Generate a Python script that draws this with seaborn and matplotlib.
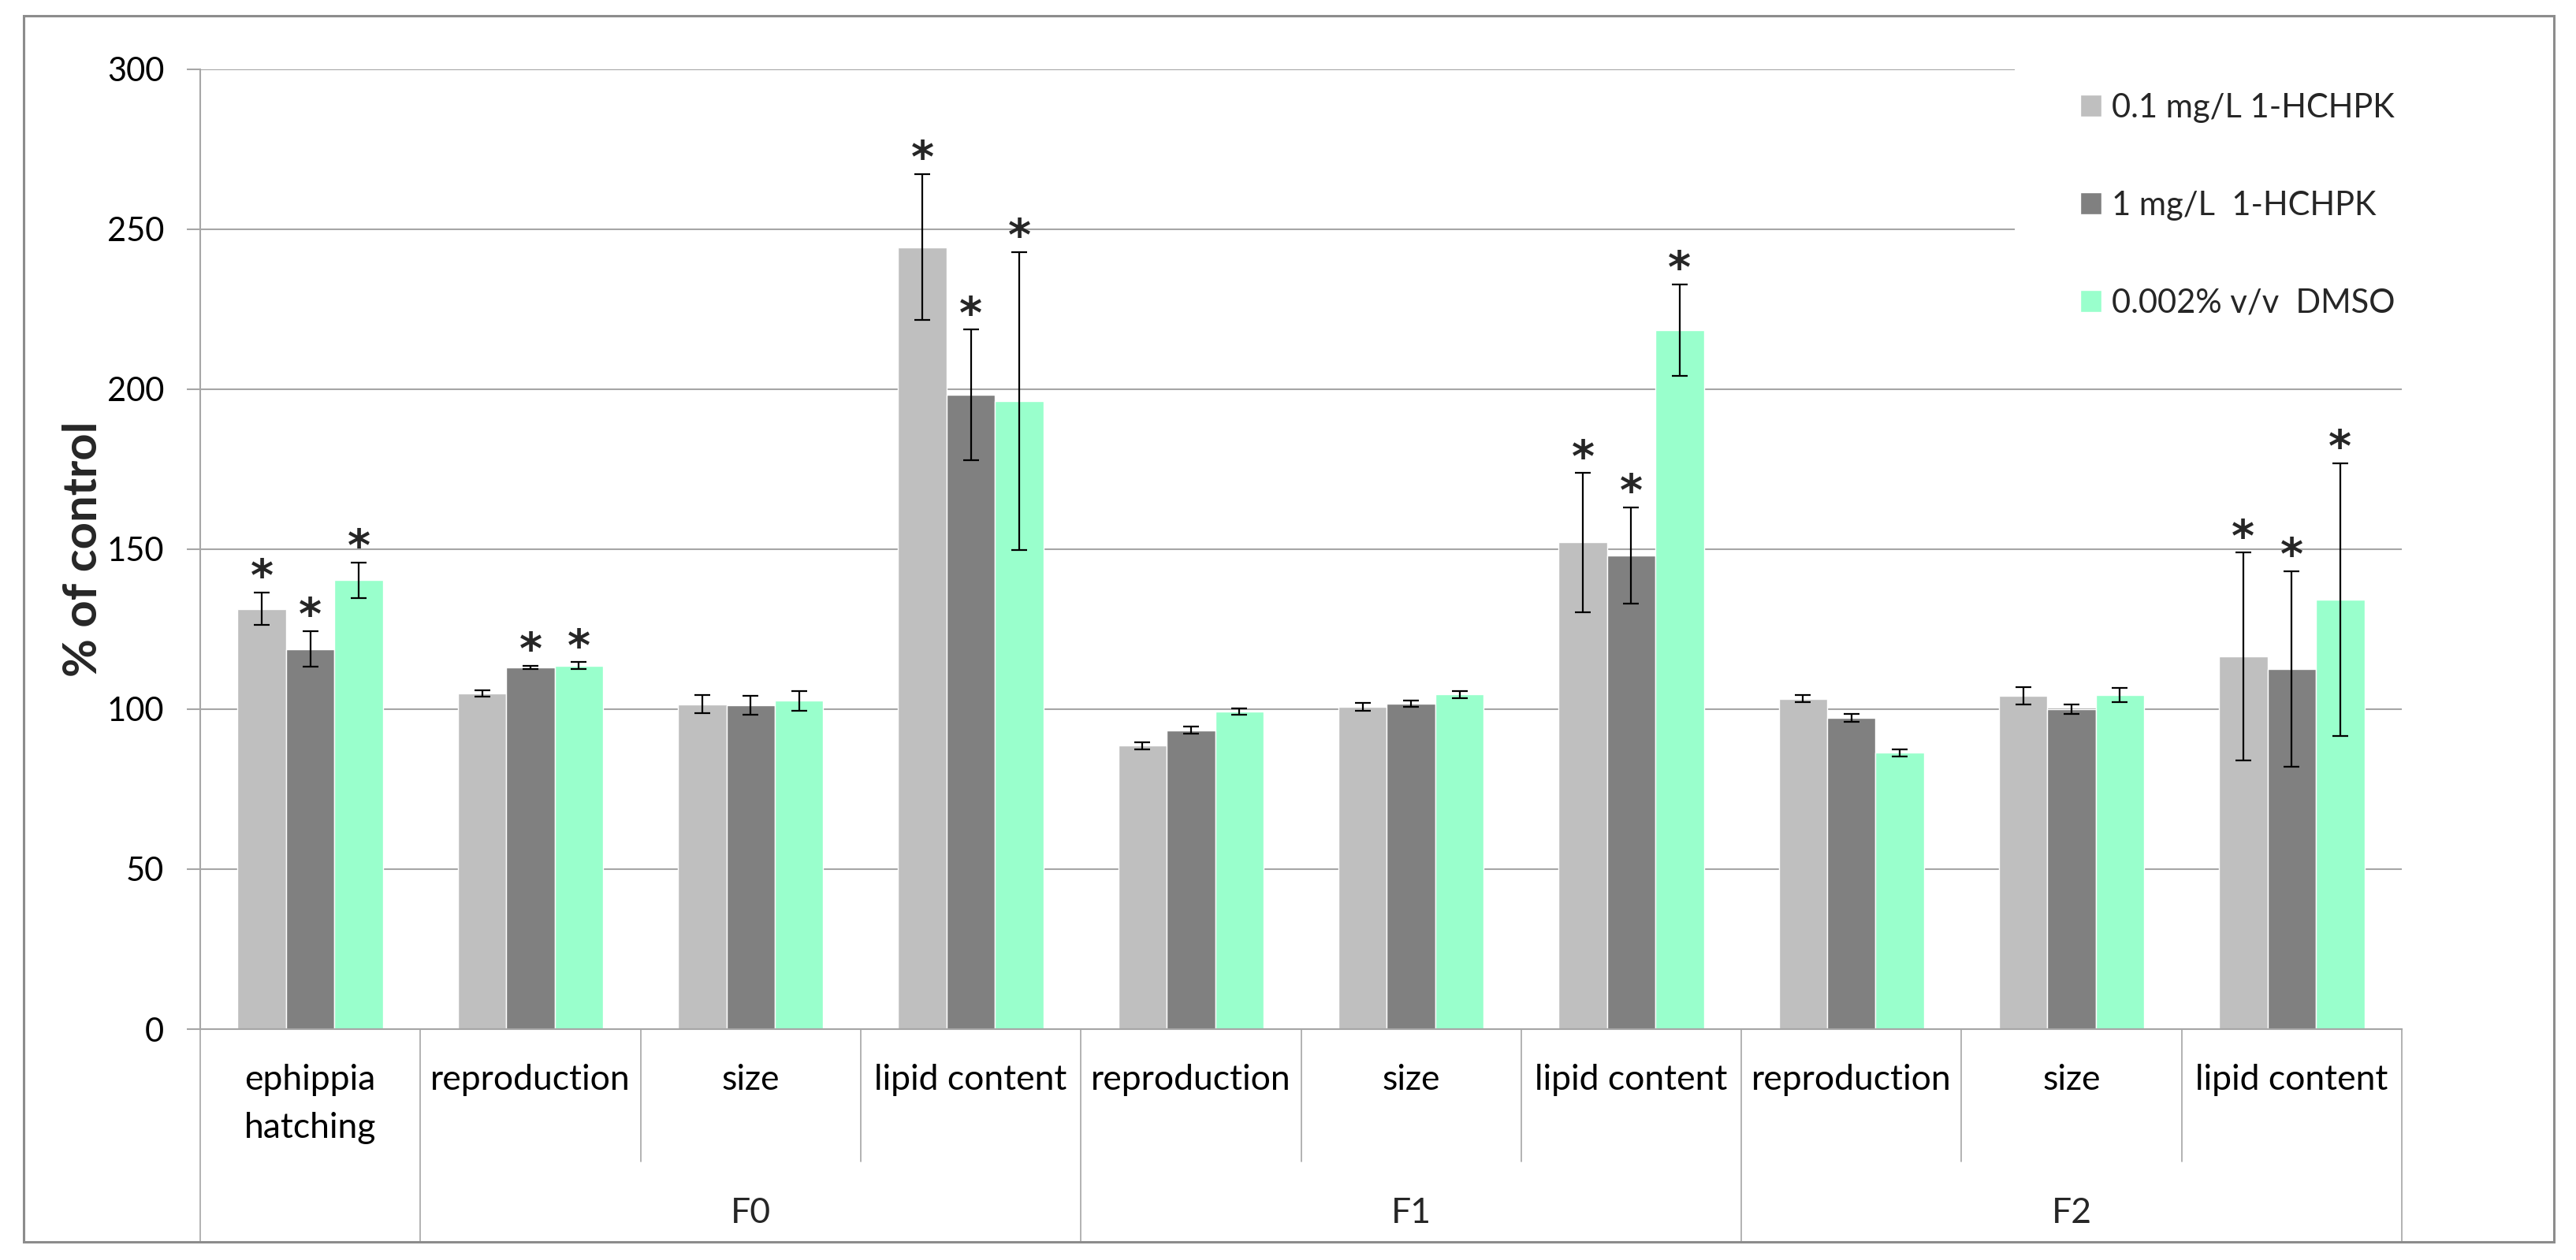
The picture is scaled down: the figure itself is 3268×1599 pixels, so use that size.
import pandas as pd
import matplotlib
matplotlib.use("Agg")
import matplotlib.pyplot as plt
from matplotlib.patches import Rectangle
import seaborn as sns

# data (% of control)
categories = ["ephippia\nhatching", "reproduction", "size", "lipid content",
              "reproduction", "size", "lipid content",
              "reproduction", "size", "lipid content"]
generations = ["F0", "F1", "F2"]
generation_centers = [2, 5, 8]
series = ["0.1 mg/L 1-HCHPK", "1 mg/L  1-HCHPK", "0.002% v/v  DMSO"]
colors = ["#BFBFBF", "#808080", "#99FFCC"]

low_dose = [131.4, 105.0, 101.6, 244.4, 88.6, 100.8, 152.1, 103.3, 104.1, 116.4]
low_err = [5.0, 1.0, 2.8, 22.8, 1.1, 1.2, 21.7, 1.1, 2.7, 32.5]
high_dose = [118.8, 113.0, 101.2, 198.2, 93.4, 101.7, 148.1, 97.3, 100.1, 112.6]
high_err = [5.6, 0.5, 3.0, 20.4, 1.1, 1.0, 15.0, 1.3, 1.5, 30.5]
dmso = [140.3, 113.6, 102.6, 196.3, 99.2, 104.6, 218.5, 86.4, 104.5, 134.3]
dmso_err = [5.6, 1.1, 3.0, 46.6, 1.0, 1.1, 14.3, 1.1, 2.2, 42.6]

low_sig = [1, 0, 0, 1, 0, 0, 1, 0, 0, 1]
high_sig = [1, 1, 0, 1, 0, 0, 1, 0, 0, 1]
dmso_sig = [1, 1, 0, 1, 0, 0, 1, 0, 0, 1]

values = [low_dose, high_dose, dmso]
errors = [low_err, high_err, dmso_err]
signif = [low_sig, high_sig, dmso_sig]

rows = []
for s, vals in zip(series, values):
    for i, v in enumerate(vals):
        rows.append({"cat": i, "series": s, "value": v})
df = pd.DataFrame(rows)

sns.set_style("white")
plt.rcParams['font.family'] = ['Lato', 'DejaVu Sans']

W, H = 3268, 1599
fig = plt.figure(figsize=(W / 100, H / 100), dpi=100)
ax_left, ax_right, ax_top, ax_bottom = 254, 3047, 88, 1306
ax = fig.add_axes([ax_left / W, 1 - ax_bottom / H,
                   (ax_right - ax_left) / W, (ax_bottom - ax_top) / H])

sns.barplot(data=df, x="cat", y="value", hue="series", hue_order=series,
            palette=colors, saturation=1, width=0.66, gap=0,
            errorbar=None, ax=ax, zorder=1)

grey = "#A6A6A6"
bar_groups = list(ax.containers)
for i, cont in enumerate(bar_groups):
    xs = [b.get_x() + b.get_width() / 2 for b in cont]
    hs = [b.get_height() for b in cont]
    ax.errorbar(xs, hs, yerr=errors[i], fmt="none", ecolor="black",
                elinewidth=1.6, capsize=7.5, capthick=1.6, zorder=3)
    for x, h, e, sg in zip(xs, hs, errors[i], signif[i]):
        if sg:
            ax.annotate("*", xy=(x, h + e), xytext=(0, 2), textcoords="offset points",
                        ha="center", va="baseline", fontsize=40, fontweight="bold",
                        family="DejaVu Sans", zorder=4)

ax.set_ylim(0, 300)
ax.set_xlim(-0.5, 9.5)
ax.set_yticks(range(0, 301, 50))
ax.yaxis.grid(True, color=grey, linewidth=1.5)
ax.set_axisbelow(True)
ax.tick_params(axis="y", labelsize=30, length=12, width=1.5, color=grey, pad=21,
               labelcolor="black", left=True)
ax.set_xticks(range(len(categories)))
ax.set_xticklabels(categories)
ax.tick_params(axis="x", labelsize=32, length=0, pad=32, labelcolor="black")
for t in ax.get_xticklabels():
    t.set_linespacing(1.6)
ax.set_xlabel("")
ax.set_ylabel("% of control", fontsize=43, fontweight="bold")
ax.yaxis.set_label_coords(-0.0435, 0.5)

for side in ["top", "right"]:
    ax.spines[side].set_visible(False)
for side in ["left", "bottom"]:
    ax.spines[side].set_color(grey)
    ax.spines[side].set_linewidth(1.5)

# hide gridlines behind the legend
ax.add_patch(Rectangle(((2556 - ax_left) / (ax_right - ax_left), (ax_bottom - 450) / (ax_bottom - ax_top)),
                       0.3, 0.5, transform=ax.transAxes, facecolor="white",
                       edgecolor="none", zorder=0.7, clip_on=False))

# category table below the axis
short_y = -(1474 - ax_bottom) / (ax_bottom - ax_top)
full_y = -(1576 - ax_bottom) / (ax_bottom - ax_top)
trans = ax.get_xaxis_transform()
for x in [-0.5, 0.5, 3.5, 6.5, 9.5]:
    ax.plot([x, x], [0, full_y], transform=trans, color=grey, lw=1.2, clip_on=False)
for x in [1.5, 2.5, 4.5, 5.5, 7.5, 8.5]:
    ax.plot([x, x], [0, short_y], transform=trans, color=grey, lw=1.2, clip_on=False)
gen_y = -(1540 - ax_bottom) / (ax_bottom - ax_top)
for g, cx in zip(generations, generation_centers):
    ax.text(cx, gen_y, g, transform=trans, ha="center", va="center", fontsize=32)

handles, labels = ax.get_legend_handles_labels()
ax.legend(handles, labels, loc="upper left", bbox_to_anchor=(2639 / W, 1 - 118 / H),
          bbox_transform=fig.transFigure, frameon=False, fontsize=30,
          handlelength=0.65, handleheight=0.65, handletextpad=0.3,
          labelspacing=2.06, borderpad=0, borderaxespad=0)

# outer frame
fig.add_artist(Rectangle((30 / W, 1 - 1576 / H), (3240 - 30) / W, (1576 - 20) / H,
                         transform=fig.transFigure, facecolor="none",
                         edgecolor="#8C8C8C", linewidth=2.2))

fig.savefig("out.png", dpi=100)
